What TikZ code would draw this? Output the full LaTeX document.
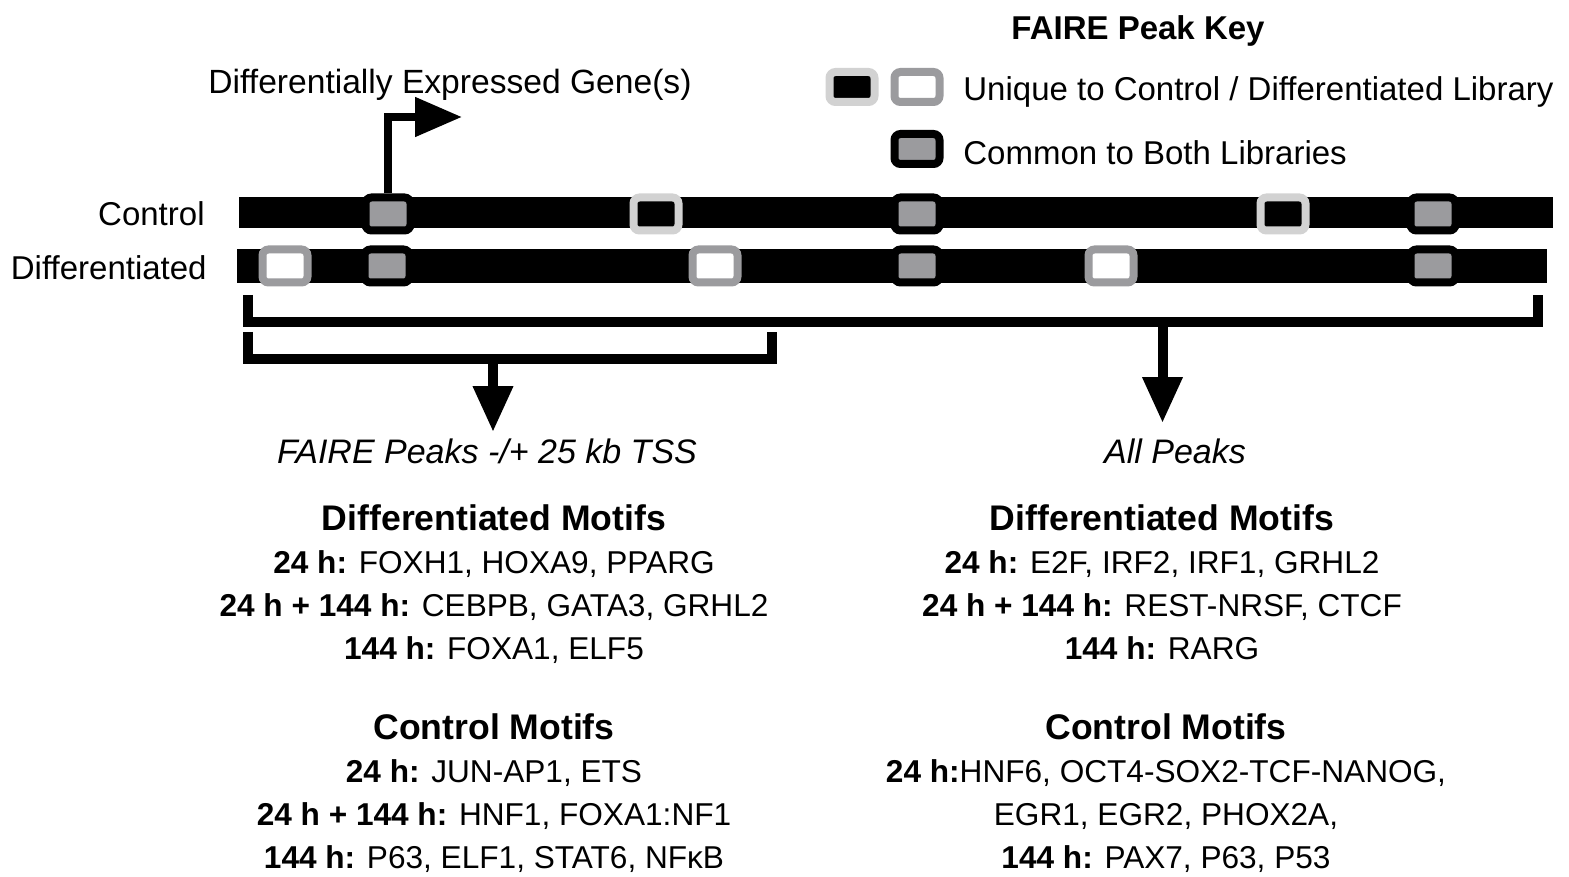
\documentclass[tikz,border=0pt]{standalone}
\usepackage{fontspec}
\setmainfont{Liberation Sans}
\usetikzlibrary{arrows.meta}
\definecolor{midgray}{HTML}{9B9B9E}
\definecolor{lightgray}{HTML}{D2D2D2}
\begin{document}
\begin{tikzpicture}[x=0.5pt,y=-0.5pt,
  txt/.style={font=\fontsize{16.5}{20}\selectfont, inner sep=0pt, anchor=base},
  motif/.style={txt, font=\fontsize{15.8}{20}\selectfont},
  head/.style={txt, font=\fontsize{17.8}{20}\selectfont\bfseries},
  peak/.style={rectangle, rounded corners=3pt, line width=4pt, minimum width=22.5pt, minimum height=16.5pt, inner sep=0pt},
  common/.style={peak, draw=black, fill=midgray},
  ctrlu/.style={peak, draw=lightgray, fill=black},
  diffu/.style={peak, draw=midgray, fill=white},
  bar/.style={fill=black},
  brk/.style={line width=5pt, line join=miter},
  bigarrow/.style={line width=5pt, -{Triangle[length=23pt,width=19pt]}}
]
\useasboundingbox (0,0) rectangle (1569,877);

% key
\node[txt, font=\fontsize{16.5}{20}\selectfont\bfseries] (keytitle) at (1138,40) {FAIRE Peak Key};
\node[ctrlu, minimum height=15pt] (k1) at (852,87) {};
\node[diffu, minimum height=15pt] (k2) at (917,87) {};
\node[common, minimum height=15pt] (k3) at (917,149) {};
\node[txt, anchor=base west] (k1t) at (963,101) {Unique to Control / Differentiated Library};
\node[txt, anchor=base west] (k3t) at (963,165) {Common to Both Libraries};

% bars
\fill[bar] (239,197) rectangle (1553,228);
\fill[bar] (237,249) rectangle (1547,283);
\node[txt, anchor=base east] (lc) at (205,226) {Control};
\node[txt, anchor=base east] (ld) at (207,279) {Differentiated};

% control peaks
\node[common] (c1) at (388,214) {};
\node[ctrlu] (c2) at (656,214) {};
\node[common] (c3) at (917,214) {};
\node[ctrlu] (c4) at (1283,214) {};
\node[common] (c5) at (1433,214) {};
% differentiated peaks
\node[diffu] (d1) at (285,266) {};
\node[common] (d2) at (387,266) {};
\node[diffu] (d3) at (715,266) {};
\node[common] (d4) at (917,266) {};
\node[diffu] (d5) at (1111,266) {};
\node[common] (d6) at (1433,266) {};

% TSS arrow
\node[txt, font=\fontsize{16.8}{20}\selectfont] (deg) at (450,94) {Differentially Expressed Gene(s)};
\coordinate (tsstip) at (462,117);
\draw[line width=4pt, line join=miter, -{Triangle[length=23.5pt,width=19pt]}] (c1.north) |- (tsstip);

% brackets
\coordinate (bigL) at (247.5,295);
\coordinate (bigR) at (1538,295);
\coordinate (bigmid) at (1162.5,322);
\draw[brk] (bigL) |- (bigmid) -| (bigR);
\coordinate (smL) at (247.5,332);
\coordinate (smR) at (772,332);
\coordinate (smmid) at (493,359);
\draw[brk] (smL) |- (smmid) -| (smR);

\node[txt, font=\fontsize{17}{20}\selectfont\itshape] (fp) at (487,463) {FAIRE Peaks -/+ 25 kb TSS};
\node[txt, font=\fontsize{17}{20}\selectfont\itshape] (ap) at (1175,463) {All Peaks};
\coordinate (smtip) at (493,432);
\coordinate (bigtip) at (1162.5,423);
\draw[bigarrow] (smmid) -- (smtip);
\draw[bigarrow] (bigmid) -- (bigtip);

% left column
\node[head] (l1) at (494,530) {Differentiated Motifs};
\node[motif] (l2) at (494,573) {\textbf{24 h:} FOXH1, HOXA9, PPARG};
\node[motif] (l3) at (494,616) {\textbf{24 h + 144 h:} CEBPB, GATA3, GRHL2};
\node[motif] (l4) at (494,659) {\textbf{144 h:} FOXA1, ELF5};
\node[head] (l5) at (494,739) {Control Motifs};
\node[motif] (l6) at (494,782) {\textbf{24 h:} JUN-AP1, ETS};
\node[motif] (l7) at (494,825) {\textbf{24 h + 144 h:} HNF1, FOXA1:NF1};
\node[motif] (l8) at (494,868) {\textbf{144 h:} P63, ELF1, STAT6, NFκB};

% right column
\node[head] (r1) at (1162,530) {Differentiated Motifs};
\node[motif] (r2) at (1162,573) {\textbf{24 h:} E2F, IRF2, IRF1, GRHL2};
\node[motif] (r3) at (1162,616) {\textbf{24 h + 144 h:} REST-NRSF, CTCF};
\node[motif] (r4) at (1162,659) {\textbf{144 h:} RARG};
\node[head] (r5) at (1166,739) {Control Motifs};
\node[motif] (r6) at (1166,782) {\textbf{24 h:}HNF6, OCT4-SOX2-TCF-NANOG,};
\node[motif] (r7) at (1166,825) {EGR1, EGR2, PHOX2A,};
\node[motif] (r8) at (1166,868) {\textbf{144 h:} PAX7, P63, P53};
\end{tikzpicture}
\end{document}
